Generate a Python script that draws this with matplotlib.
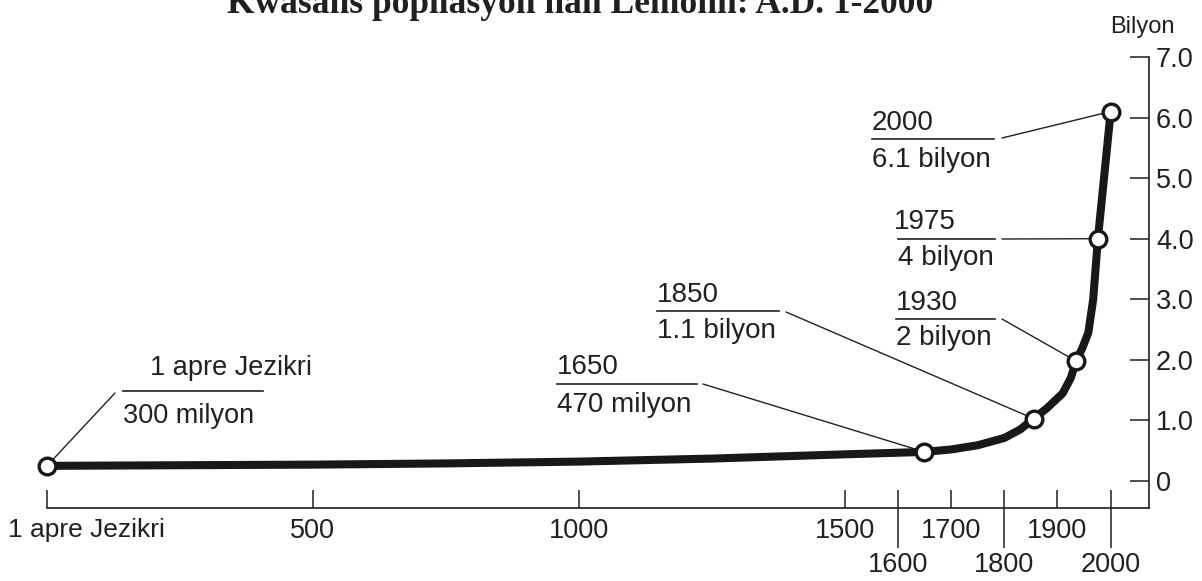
import matplotlib.pyplot as plt
from matplotlib.lines import Line2D

# population curve (years, billions)
years = [1, 250, 500, 750, 1000, 1250, 1500, 1650, 1700, 1750, 1800, 1830, 1855,
         1880, 1910, 1925, 1935, 1947, 1958, 1967, 1976, 1988, 2000]
pop = [0.25, 0.26, 0.27, 0.29, 0.32, 0.37, 0.44, 0.48, 0.52, 0.59, 0.71, 0.85, 1.03,
       1.2, 1.45, 1.7, 1.98, 2.2, 2.45, 2.99, 4.0, 5.05, 6.1]

# marked points
mark_years = [1, 1650, 1855, 1935, 1976, 2000]
mark_pop = [0.25, 0.48, 1.03, 1.98, 4.0, 6.1]
mark_year_text = ["1 apre Jezikri", "1650", "1850", "1930", "1975", "2000"]
mark_pop_text = ["300 milyon", "470 milyon", "1.1 bilyon", "2 bilyon", "4 bilyon", "6.1 bilyon"]

xticks_top = [500, 1000, 1500, 1700, 1900]
xticks_low = [1600, 1800, 2000]
yticks = [0, 1, 2, 3, 4, 5, 6, 7]
ytick_labels = ["0", "1.0", "2.0", "3.0", "4.0", "5.0", "6.0", "7.0"]

W, H = 1202, 581
INK = "#231f20"
plt.rcParams['font.family'] = ['Liberation Sans', 'DejaVu Sans']

fig = plt.figure(figsize=(W / 100, H / 100), dpi=100)
ax = fig.add_axes([47 / W, (H - 508) / H, (1149 - 47) / W, (508 - 57) / H])
ax.set_xlim(1, 2072)
ax.set_ylim(-0.446, 7.0)
ax.patch.set_visible(False)


def px(x, y):
    # pixel position (from top-left) -> figure fraction
    return x / W, 1 - y / H


ax.plot(years, pop, color="#1a1718", lw=5.8, solid_capstyle="butt",
        solid_joinstyle="round", zorder=4, clip_on=False)
ax.plot(mark_years, mark_pop, "o", ms=12, mfc="white", mec="#1a1718", mew=2.4,
        zorder=5, clip_on=False)

# label layout: (year text x, baseline), rule (x0, x1, y), value baseline, leader start, size
layout = [
    ((150, 375), (123, 263, 391), 423, (115, 393), 19.5),
    ((557, 374), (557, 697, 384), 412, (703, 384), 20),
    ((657, 302), (657, 779, 311), 338, (786, 312), 20),
    ((896, 310), (896, 995, 319), 345, (1002, 319), 20),
    ((894, 229), (898, 995, 239), 265, (1002, 239), 20),
    ((872, 130), (872, 994, 139), 167, (1002, 138), 20),
]
fs = 19.5
for (yt, pt, (ty, rule, vb, lead, sz), xv, yv) in zip(mark_year_text, mark_pop_text, layout,
                                                      mark_years, mark_pop):
    fig.text(*px(*ty), yt, fontsize=sz, color=INK, va="baseline", ha="left")
    fig.text(*px(rule[0], vb), pt, fontsize=sz, color=INK, va="baseline", ha="left")
    x0, y0 = px(rule[0], rule[2])
    x1, _ = px(rule[1], rule[2])
    fig.add_artist(Line2D([x0, x1], [y0, y0], transform=fig.transFigure,
                          color=INK, lw=1.2))
    ax.annotate("", xy=(xv, yv), xycoords="data", xytext=px(*lead),
                textcoords="figure fraction",
                arrowprops=dict(arrowstyle="-", color=INK, lw=1.0,
                                shrinkA=0, shrinkB=0), zorder=2)

# axes styling
for s in ["left", "top"]:
    ax.spines[s].set_visible(False)
for s in ["bottom", "right"]:
    ax.spines[s].set_color(INK)
    ax.spines[s].set_linewidth(1.2)

ax.set_xticks([1] + xticks_top + xticks_low)
ax.set_xticklabels([""] + [str(v) for v in xticks_top] + [""] * len(xticks_low))
ax.tick_params(axis="x", direction="in", length=13, width=1.1, color=INK,
               labelsize=fs, labelcolor=INK, pad=7)
ax.annotate("1 apre Jezikri", xy=(1, 0), xycoords=("data", "axes fraction"),
            xytext=(-28, -7), textcoords="offset points", ha="left", va="top",
            fontsize=19, color=INK)

sec = ax.secondary_xaxis("bottom")
sec.set_xticks(xticks_low)
sec.set_xticklabels([str(v) for v in xticks_low])
sec.spines["bottom"].set_visible(False)
sec.tick_params(axis="x", direction="out", length=29, width=1.1, color=INK,
                labelsize=fs, labelcolor=INK, pad=3)

ax.set_yticks(yticks)
ax.set_yticklabels(ytick_labels)
ax.yaxis.tick_right()
ax.tick_params(axis="y", direction="in", length=13.5, width=1.1, color=INK,
               labelsize=fs, labelcolor=INK, pad=5)

fig.text(*px(1142, 33), "Bilyon", fontsize=17, color=INK, ha="center", va="baseline")
fig.text(*px(580, 13), "Kwasans popilasyon nan Lemonn: A.D. 1-2000", fontsize=25.5,
         fontweight="bold", family="Liberation Serif", color=INK, ha="center",
         va="baseline")

fig.savefig("out.png", dpi=100)
